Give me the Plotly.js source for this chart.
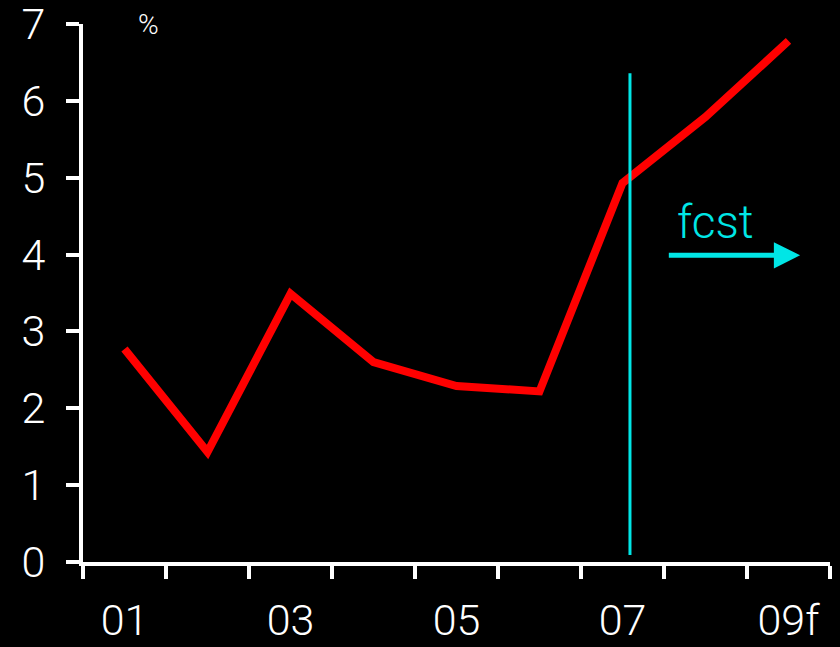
<!DOCTYPE html>
<html><head><meta charset="utf-8">
<script src="https://cdn.plot.ly/plotly-3.0.1.min.js"></script>
<style>html,body{margin:0;padding:0;background:#000;}</style>
</head><body>
<div id="chart" style="width:840px;height:647px;"></div>
<script>
const years = [1,2,3,4,5,6,7,8,9];
const values = [2.77, 1.43, 3.49, 2.60, 2.29, 2.22, 4.93, 5.79, 6.78];
const tickPositions = [1,3,5,7,9];
const tickLabels = ['01','03','05','07','09f'];
const yTicks = [0,1,2,3,4,5,6,7];
const forecastX = 7.09;
const FONT = 'Roboto, "Open Sans", sans-serif';

const trace = {
  x: years, y: values, type: 'scatter', mode: 'lines',
  line: {color: '#ff0000', width: 8}, hoverinfo: 'skip'
};

const layout = {
  width: 840, height: 647,
  paper_bgcolor: '#000', plot_bgcolor: '#000',
  margin: {l: 83, r: 10, t: 24, b: 85},
  showlegend: false,
  font: {family: FONT, color: '#fff', size: 43, weight: 300},
  xaxis: {
    range: [0.5, 9.5], tickvals: tickPositions, ticktext: tickLabels,
    ticks: '', showgrid: false, zeroline: false,
    showline: true, linecolor: '#fff', linewidth: 4,
    ticklabelstandoff: 17, ticklabeloverflow: 'allow',
    tickfont: {family: FONT, size: 43, color: '#fff', weight: 300},
    minor: {tick0: 0.5, dtick: 1, ticks: 'outside', ticklen: 13, tickwidth: 4, tickcolor: '#fff', showgrid: false}
  },
  yaxis: {
    range: [0, 7], tickvals: yTicks, ticks: 'outside', ticklen: 13, tickwidth: 4, tickcolor: '#fff',
    showgrid: false, zeroline: false, showline: true, linecolor: '#fff', linewidth: 4,
    ticklabelstandoff: 12, ticklabeloverflow: 'allow',
    tickfont: {family: FONT, size: 43, color: '#fff', weight: 300}
  },
  shapes: [{
    type: 'line', xref: 'x', yref: 'y', x0: forecastX, x1: forecastX, y0: 0.09, y1: 6.36,
    line: {color: '#00e6e6', width: 3}
  }],
  annotations: [
    {xref: 'paper', yref: 'paper', x: 0.088, y: 1.0, text: '%', showarrow: false,
     font: {family: FONT, size: 28, color: '#fff', weight: 300}, xanchor: 'center', yanchor: 'middle'},
    {xref: 'x', yref: 'y', x: 8.12, y: 4.42, text: 'fcst', showarrow: false,
     font: {family: FONT, size: 46, color: '#00e6e6', weight: 300}, xanchor: 'center', yanchor: 'middle'},
    {xref: 'x', yref: 'y', axref: 'x', ayref: 'y', x: 9.14, y: 3.99, ax: 7.54, ay: 3.99,
     text: '', showarrow: true, arrowhead: 2, arrowsize: 1.05, arrowwidth: 5, arrowcolor: '#00e6e6'}
  ]
};

Plotly.newPlot('chart', [trace], layout, {staticPlot: true, displayModeBar: false});
</script>
</body></html>
